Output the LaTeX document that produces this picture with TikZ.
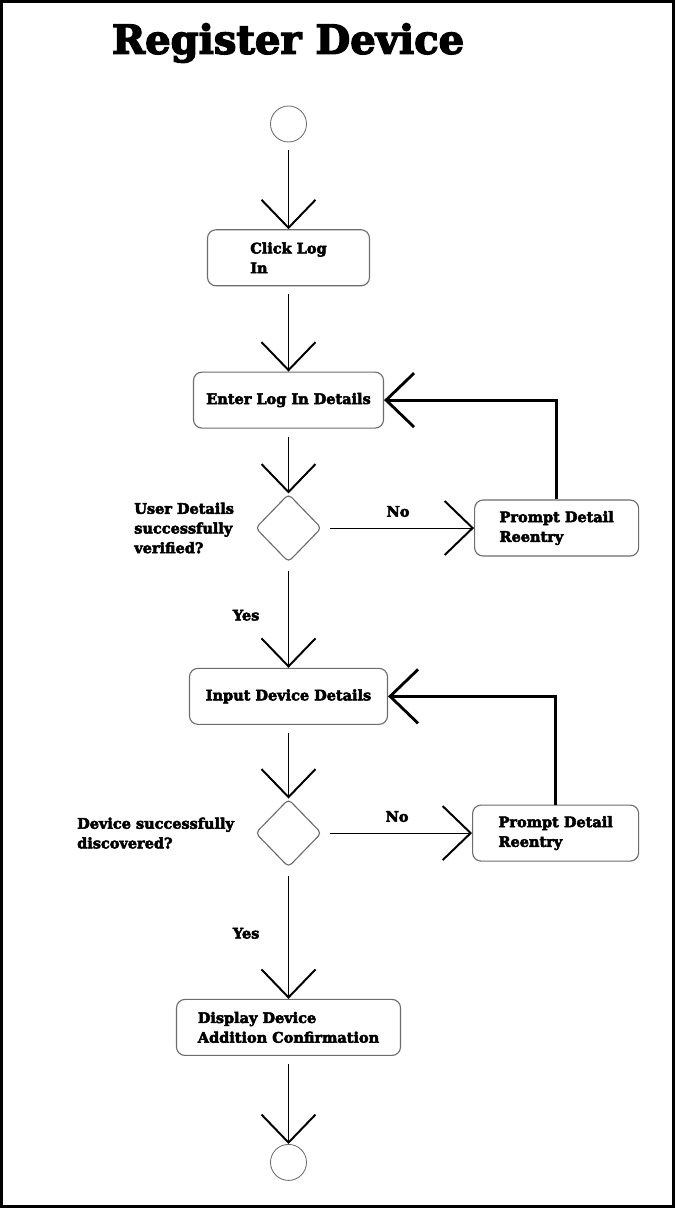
\documentclass[tikz,border=0pt]{standalone}
\usepackage{fontspec}
\setmainfont{DejaVu Serif}[BoldFeatures={FakeBold=3.5}]
\usetikzlibrary{positioning}
\usetikzlibrary{arrows.meta}
\usetikzlibrary{shapes.geometric}

\begin{document}
\begin{tikzpicture}[
    font=\bfseries\fontsize{10.3}{14}\selectfont,
    state/.style={draw=gray!85!black, line width=0.8pt, rounded corners=6pt, minimum height=1.4cm, align=left, inner sep=0pt},
    decision/.style={draw=gray!85!black, line width=0.8pt, diamond, rounded corners=3pt, minimum width=1.65cm, minimum height=1.7cm, inner sep=0pt},
    terminal/.style={draw=gray!85!black, line width=0.6pt, circle, minimum size=0.9cm, inner sep=0pt},
    flow/.style={line width=0.7pt, shorten <=0.2cm, -{Straight Barb[length=0.7cm, width=1.35cm, line width=1.4pt]}},
    back/.style={line width=2pt, -{Straight Barb[length=0.7cm, width=1.35cm]}}
]
    \useasboundingbox (0,0) rectangle (16.875,-30.2);
    \draw[line width=0.07cm] (0.035,-0.035) rectangle (16.84,-30.165);

    \node[font=\bfseries\fontsize{28.5}{32}\selectfont] (title) at (7.2,-1.075) {Register Device};

    \node[terminal] (start) at (7.2125,-3.1) {};
    \node[state, minimum width=4.05cm, below=2.17cm of start] (click) {Click Log\\In};
    \node[state, minimum width=4.75cm, below=2.13cm of click] (enter) {Enter Log In Details};
    \node[decision, below=1.62cm of enter] (verify) {};
    \node[state, minimum width=4.95cm, below=2.63cm of verify] (input) {Input Device Details};
    \node[decision, below=1.84cm of input] (discover) {};
    \node[state, minimum width=5.6cm, below=3.28cm of discover] (confirm) {Display Device\\Addition Confirmation};
    \node[terminal, below=2.2cm of confirm] (finish) {};

    \node[state, minimum width=4.1cm, right=3.8cm of verify] (retry1) {Prompt Detail\\Reentry};
    \node[state, minimum width=4.15cm, right=3.75cm of discover] (retry2) {Prompt Detail\\Reentry};

    \node[left=0.4cm of verify, align=left] (verifyq) {User Details\\successfully\\verified?};
    \node[left=0.4cm of discover, align=left] (discoverq) {Device successfully\\discovered?};

    \draw[flow] (start) -- (click);
    \draw[flow] (click) -- (enter);
    \draw[flow] (enter) -- (verify);
    \draw[flow] (verify) -- node[above=0.15cm] {No} (retry1);
    \draw[back] (retry1) |- (enter);
    \draw[flow] (verify) -- node[left=0.6cm] {Yes} (input);
    \draw[flow] (input) -- (discover);
    \draw[flow] (discover) -- node[above=0.15cm] {No} (retry2);
    \draw[back] (retry2) |- (input);
    \draw[flow] (discover) -- node[left=0.6cm] {Yes} (confirm);
    \draw[flow] (confirm) -- (finish);
\end{tikzpicture}
\end{document}
